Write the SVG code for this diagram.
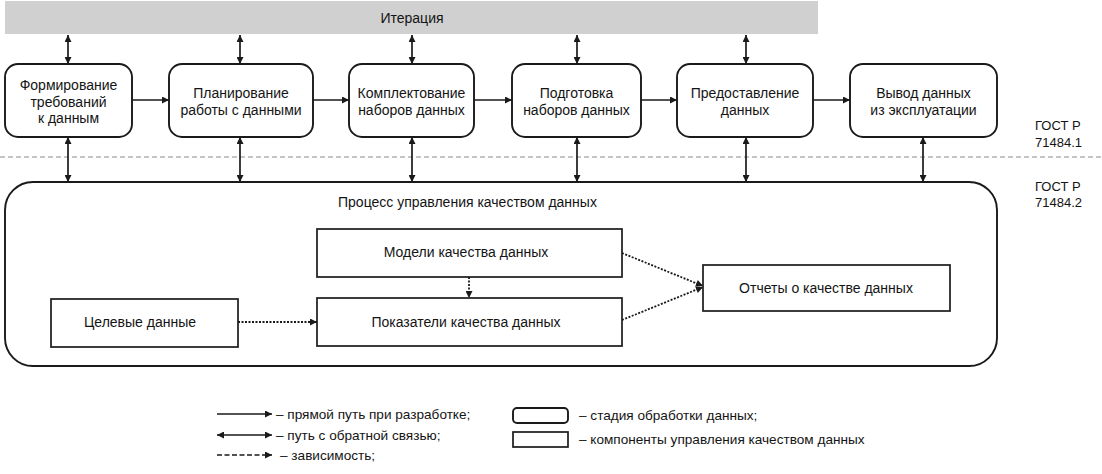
<svg xmlns="http://www.w3.org/2000/svg" width="1102" height="474" viewBox="0 0 1102 474">
<style>
text{font-family:"Liberation Sans",Arial,sans-serif;font-size:14px;fill:#141414}
.c{text-anchor:middle}
.stage{fill:#fff;stroke:#1a1a1a;stroke-width:1.9}
.comp{fill:#fff;stroke:#1a1a1a;stroke-width:1.7}
.ln{stroke:#1a1a1a;stroke-width:1.7;fill:none}
.dot{stroke:#1a1a1a;stroke-width:1.8;fill:none;stroke-dasharray:2 1.5}
.dash{stroke:#1a1a1a;stroke-width:1.4;fill:none;stroke-dasharray:5 2.5}
.gost{font-size:13px}
.lg{font-size:13.6px}
</style>
<defs>
<marker id="ah" viewBox="0 0 10 10" refX="10" refY="5" markerWidth="9" markerHeight="7" markerUnits="userSpaceOnUse" orient="auto-start-reverse">
<path d="M0,0 L10,5 L0,10 z" fill="#1a1a1a"/>
</marker>
</defs>

<g id="iteration">
<rect x="5" y="1" width="813" height="33" fill="#d0d0d0"/>
<text class="c" x="412" y="23">Итерация</text>
</g>

<g id="stage1">
<rect class="stage" x="5" y="64" width="127" height="73" rx="13"/>
<text class="c" x="68.5" y="90">Формирование</text>
<text class="c" x="68.5" y="107">требований</text>
<text class="c" x="68.5" y="123">к данным</text>
</g>
<g id="stage2">
<rect class="stage" x="169" y="64" width="144" height="73" rx="13"/>
<text class="c" x="241" y="98">Планирование</text>
<text class="c" x="241" y="115">работы с данными</text>
</g>
<g id="stage3">
<rect class="stage" x="349" y="64" width="125" height="73" rx="13"/>
<text class="c" x="411.5" y="98">Комплектование</text>
<text class="c" x="411.5" y="115">наборов данных</text>
</g>
<g id="stage4">
<rect class="stage" x="512" y="64" width="129" height="73" rx="13"/>
<text class="c" x="576.5" y="98">Подготовка</text>
<text class="c" x="576.5" y="115">наборов данных</text>
</g>
<g id="stage5">
<rect class="stage" x="677" y="64" width="136" height="73" rx="13"/>
<text class="c" x="745" y="98">Предоставление</text>
<text class="c" x="745" y="115">данных</text>
</g>
<g id="stage6">
<rect class="stage" x="850" y="64" width="147" height="73" rx="13"/>
<text class="c" x="923.5" y="98">Вывод данных</text>
<text class="c" x="923.5" y="115">из эксплуатации</text>
</g>

<g id="gost">
<text class="gost" x="1035" y="130">ГОСТ Р</text>
<text class="gost" x="1035" y="147">71484.1</text>
<text class="gost" x="1035" y="191">ГОСТ Р</text>
<text class="gost" x="1035" y="207">71484.2</text>
<line x1="0" y1="157" x2="1102" y2="157" stroke="#8a8a8a" stroke-width="1" stroke-dasharray="5 3"/>
</g>

<g id="dq-process">
<rect class="stage" x="5" y="182" width="992" height="184" rx="28"/>
<text x="338" y="207">Процесс управления качеством данных</text>
</g>
<g id="dq-models">
<rect class="comp" x="317" y="229" width="305" height="48"/>
<text class="c" x="466" y="257">Модели качества данных</text>
</g>
<g id="dq-indicators">
<rect class="comp" x="317" y="298" width="305" height="48"/>
<text class="c" x="466" y="327">Показатели качества данных</text>
</g>
<g id="target-data">
<rect class="comp" x="51" y="299" width="187" height="48"/>
<text class="c" x="140" y="327">Целевые данные</text>
</g>
<g id="dq-reports">
<rect class="comp" x="703" y="265" width="247" height="46"/>
<text class="c" x="826" y="293">Отчеты о качестве данных</text>
</g>

<g id="connectors">
<line class="ln" x1="132" y1="100" x2="169" y2="100" marker-end="url(#ah)"/>
<line class="ln" x1="313" y1="100" x2="349" y2="100" marker-end="url(#ah)"/>
<line class="ln" x1="474" y1="100" x2="512" y2="100" marker-end="url(#ah)"/>
<line class="ln" x1="641" y1="100" x2="677" y2="100" marker-end="url(#ah)"/>
<line class="ln" x1="813" y1="100" x2="850" y2="100" marker-end="url(#ah)"/>

<line class="ln" x1="68" y1="35" x2="68" y2="64" marker-start="url(#ah)" marker-end="url(#ah)"/>
<line class="ln" x1="240" y1="35" x2="240" y2="64" marker-start="url(#ah)" marker-end="url(#ah)"/>
<line class="ln" x1="412" y1="35" x2="412" y2="64" marker-start="url(#ah)" marker-end="url(#ah)"/>
<line class="ln" x1="577" y1="35" x2="577" y2="64" marker-start="url(#ah)" marker-end="url(#ah)"/>
<line class="ln" x1="746" y1="35" x2="746" y2="64" marker-start="url(#ah)" marker-end="url(#ah)"/>

<line class="ln" x1="68" y1="137" x2="68" y2="182" marker-start="url(#ah)" marker-end="url(#ah)"/>
<line class="ln" x1="240" y1="137" x2="240" y2="182" marker-start="url(#ah)" marker-end="url(#ah)"/>
<line class="ln" x1="412" y1="137" x2="412" y2="182" marker-start="url(#ah)" marker-end="url(#ah)"/>
<line class="ln" x1="577" y1="137" x2="577" y2="182" marker-start="url(#ah)" marker-end="url(#ah)"/>
<line class="ln" x1="746" y1="137" x2="746" y2="182" marker-start="url(#ah)" marker-end="url(#ah)"/>
<line class="ln" x1="923" y1="137" x2="923" y2="182" marker-start="url(#ah)" marker-end="url(#ah)"/>

<line class="dot" x1="238" y1="322" x2="317" y2="322" marker-end="url(#ah)"/>
<line class="dot" x1="469" y1="277" x2="469" y2="298" marker-end="url(#ah)"/>
<line class="dot" x1="622" y1="253" x2="703" y2="286" marker-end="url(#ah)"/>
<line class="dot" x1="622" y1="320" x2="703" y2="287" marker-end="url(#ah)"/>
</g>

<g id="legend">
<line class="ln" x1="217" y1="414" x2="272" y2="414" marker-end="url(#ah)"/>
<text class="lg" x="276" y="419">– прямой путь при разработке;</text>
<line class="ln" x1="217" y1="435" x2="272" y2="435" marker-start="url(#ah)" marker-end="url(#ah)"/>
<text class="lg" x="276" y="440">– путь с обратной связью;</text>
<line class="dash" x1="217" y1="455" x2="272" y2="455" marker-end="url(#ah)"/>
<text class="lg" x="280" y="460">– зависимость;</text>
<rect class="stage" x="513" y="408" width="55" height="15" rx="4"/>
<text class="lg" x="579" y="420">– стадия обработки данных;</text>
<rect class="comp" x="513" y="432" width="55" height="15"/>
<text class="lg" x="579" y="444">– компоненты управления качеством данных</text>
</g>
</svg>
